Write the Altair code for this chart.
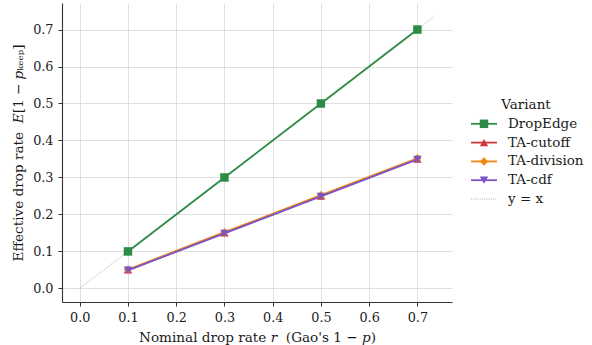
import altair as alt
import pandas as pd

# ---- data ----
r_values = [0.1, 0.3, 0.5, 0.7]
variants = ["DropEdge", "TA-cutoff", "TA-division", "TA-cdf"]
dropedge = [0.10, 0.30, 0.50, 0.70]
ta_cutoff = [0.050, 0.150, 0.250, 0.350]
ta_division = [0.051, 0.152, 0.252, 0.352]
ta_cdf = [0.049, 0.149, 0.249, 0.349]
identity_x = [0.0, 0.735]
tick_values = [0.0, 0.1, 0.2, 0.3, 0.4, 0.5, 0.6, 0.7]
legend_labels = ["DropEdge", "TA-cutoff", "TA-division", "TA-cdf", "y = x"]

colors = ["#2e8b47", "#cf3a3a", "#ee8a12", "#7b55c8"]
ident_color = "#9a9a9a"
shapes = ["square", "triangle-up", "diamond", "triangle-down"]
FONT = "DejaVu Serif"

series = {"DropEdge": dropedge, "TA-cutoff": ta_cutoff,
          "TA-division": ta_division, "TA-cdf": ta_cdf}
rows = []
for v in variants:
    for r, e in zip(r_values, series[v]):
        rows.append({"variant": v, "r": r, "eff": e})
df = pd.DataFrame(rows)
df_id = pd.DataFrame({"r": identity_x, "eff": identity_x})

dom = [-0.03675, 0.77175]
xs = alt.Scale(domain=dom, nice=False, zero=False)
ys = alt.Scale(domain=dom, nice=False, zero=False)
color_scale = alt.Scale(domain=variants, range=colors)
shape_scale = alt.Scale(domain=variants, range=shapes)

xenc = alt.X("r:Q", scale=xs,
             axis=alt.Axis(values=tick_values, format=".1f",
                           title="Nominal drop rate 𝑟 \u00a0(Gao's 1 − 𝑝)"))
yenc = alt.Y("eff:Q", scale=ys,
             axis=alt.Axis(values=tick_values, format=".1f",
                           title="Effective drop rate \u00a0𝐸[1 − 𝑝ₖₑₑₚ]"))

ident = alt.Chart(df_id).mark_line(color=ident_color, strokeWidth=0.8,
                                   strokeDash=[1, 1.2]).encode(x=xenc, y=yenc)
layers = [ident]
for v in variants:
    sub = df[df.variant == v]
    base = alt.Chart(sub).encode(
        x=xenc, y=yenc,
        color=alt.Color("variant:N", scale=color_scale, legend=None))
    layers.append(base.mark_line(strokeWidth=1.8))
    layers.append(base.mark_point(filled=True, opacity=1, size=72,
                                  strokeWidth=0.8).encode(
        shape=alt.Shape("variant:N", scale=shape_scale, legend=None)))

main = alt.layer(*layers).properties(width=390, height=299)

# ---- legend panel ----
leg_df = pd.DataFrame({"label": legend_labels,
                       "row": list(range(1, len(legend_labels) + 1))})
title_df = pd.DataFrame({"label": ["Variant"], "row": [0]})
ly = alt.Scale(domain=[0, 5], range=[102, 196])
lcolor = alt.Scale(domain=legend_labels, range=colors + [ident_color])
lshape = alt.Scale(domain=variants, range=shapes)

leg_base = alt.Chart(leg_df).encode(y=alt.Y("row:Q", scale=ly, axis=None))
leg_rule = leg_base.transform_filter(alt.datum.label != "y = x").mark_rule(
    strokeWidth=1.8).encode(
    x=alt.value(19), x2=alt.value(45),
    color=alt.Color("label:N", scale=lcolor, legend=None))
leg_ident = leg_base.transform_filter(alt.datum.label == "y = x").mark_rule(
    strokeWidth=0.8, strokeDash=[1, 1.2], color=ident_color).encode(
    x=alt.value(19), x2=alt.value(45))
leg_pts = leg_base.transform_filter(alt.datum.label != "y = x").mark_point(
    filled=True, opacity=1, size=72).encode(
    x=alt.value(32),
    color=alt.Color("label:N", scale=lcolor, legend=None),
    shape=alt.Shape("label:N", scale=lshape, legend=None))
leg_text = leg_base.mark_text(align="left", baseline="middle", font=FONT,
                              fontSize=13.5, color="#1a1a1a").encode(
    x=alt.value(56), text="label:N")
leg_title = alt.Chart(title_df).mark_text(
    align="center", baseline="middle", font=FONT, fontSize=13.5,
    color="#1a1a1a").encode(x=alt.value(74),
                            y=alt.Y("row:Q", scale=ly, axis=None), text="label:N")

legend_panel = alt.layer(leg_rule, leg_ident, leg_pts, leg_text, leg_title
                         ).properties(width=130, height=299)

chart = alt.hconcat(main, legend_panel, spacing=0).properties(
    padding={"left": 11, "top": 3, "right": 0, "bottom": 0}
).configure_view(stroke=None).configure_axis(
    domainColor="#333", domainWidth=1.1, tickColor="#333", tickWidth=1,
    tickSize=4, gridColor="#dcdcdc", gridWidth=0.9,
    labelFont=FONT, labelFontSize=12.8, labelColor="#1a1a1a", labelPadding=5,
    titleFont=FONT, titleFontSize=13.6, titleFontWeight="normal",
    titleColor="#1a1a1a", titlePadding=7
)

chart.save("out.html", embed_options={"renderer": "svg", "actions": False})
